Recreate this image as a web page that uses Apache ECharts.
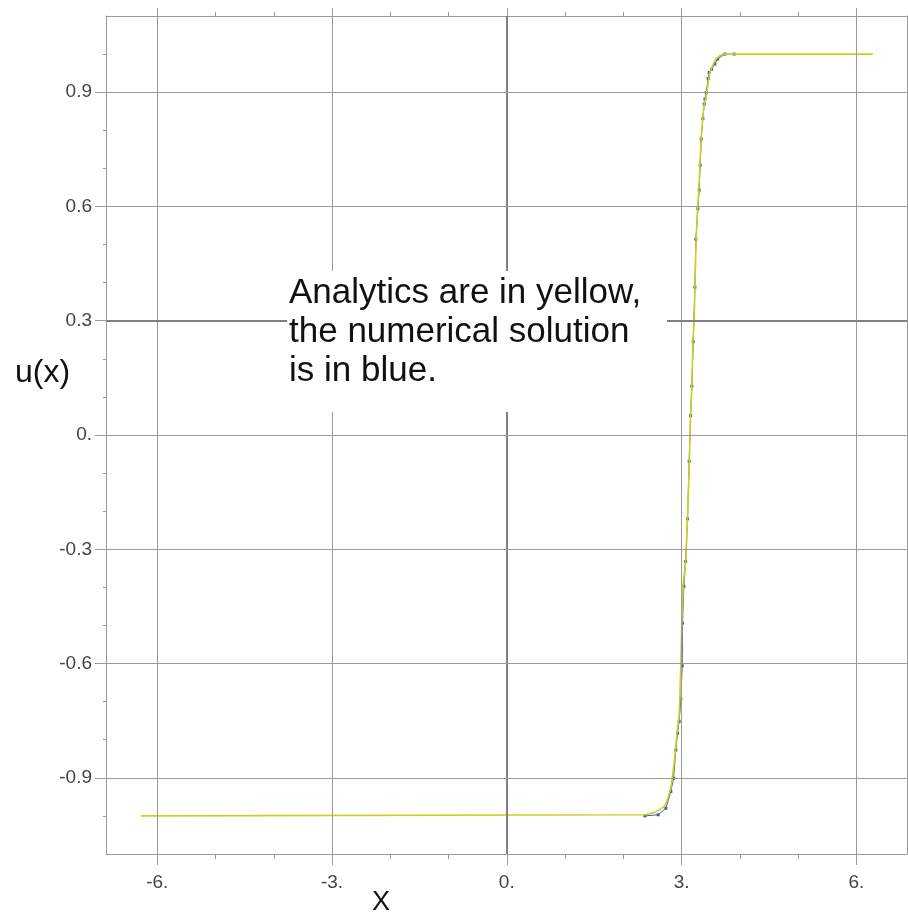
<!DOCTYPE html>
<html>
<head>
<meta charset="utf-8">
<script src="https://cdn.jsdelivr.net/npm/echarts@6/dist/echarts.min.js"></script>
<style>
  html, body { margin: 0; padding: 0; background: #fff; }
  #main { width: 908px; height: 916px; }
</style>
</head>
<body>
<div id="main"></div>
<script>
// analytic solution (yellow)
var analyticX = [-6.283, 2.37, 2.512, 2.627, 2.713, 2.77, 2.811, 2.846, 2.873, 2.902, 2.925, 2.954, 2.971, 2.988, 3.005, 3.028, 3.074, 3.103, 3.126, 3.155, 3.177, 3.194, 3.217, 3.229, 3.251, 3.275, 3.297, 3.314, 3.337, 3.366, 3.388, 3.417, 3.44, 3.486, 3.533, 3.589, 3.658, 3.727, 3.886, 6.283];
var analyticU = [-1, -0.997, -0.992, -0.983, -0.974, -0.952, -0.93, -0.895, -0.86, -0.816, -0.777, -0.746, -0.689, -0.597, -0.488, -0.392, -0.326, -0.214, -0.109, 0.054, 0.128, 0.245, 0.304, 0.387, 0.514, 0.597, 0.645, 0.709, 0.781, 0.834, 0.869, 0.884, 0.908, 0.953, 0.969, 0.987, 0.996, 1, 1, 1];

// numerical solution (blue dots)
var numX = [2.37, 2.598, 2.731, 2.816, 2.863, 2.902, 2.931, 2.959, 2.988, 3.011, 3.017, 3.04, 3.069, 3.103, 3.131, 3.155, 3.177, 3.2, 3.229, 3.246, 3.28, 3.302, 3.32, 3.337, 3.366, 3.388, 3.401, 3.423, 3.457, 3.474, 3.516, 3.572, 3.618, 3.744, 3.903];
var numU = [-1, -0.997, -0.98, -0.936, -0.901, -0.827, -0.783, -0.752, -0.693, -0.606, -0.494, -0.397, -0.332, -0.22, -0.069, 0.051, 0.128, 0.245, 0.388, 0.514, 0.594, 0.643, 0.708, 0.777, 0.831, 0.869, 0.882, 0.899, 0.936, 0.952, 0.96, 0.974, 0.987, 1, 1];

var xMajor = [-6, -3, 0, 3, 6];
var xMinor = [-5, -4, -2, -1, 1, 2, 4, 5];
var yMajor = [-0.9, -0.6, -0.3, 0, 0.3, 0.6, 0.9];
var yMinor = [-1.0, -0.8, -0.7, -0.5, -0.4, -0.2, -0.1, 0.1, 0.2, 0.4, 0.5, 0.7, 0.8, 1.0];

var myChart = echarts.init(document.getElementById('main'));

var gridColor = '#9a9a9a';
var labelFont = { color: '#444', fontSize: 19, fontFamily: 'Liberation Sans' };

function pairs(xs, ys) {
    var out = [];
    for (var i = 0; i < xs.length; i++) out.push([xs[i], ys[i]]);
    return out;
}

var gridLines = [];
xMajor.forEach(function (v) {
    gridLines.push({ xAxis: v, lineStyle: { color: v === 0 ? '#808080' : gridColor, width: v === 0 ? 2 : 1, type: 'solid' } });
});
yMajor.forEach(function (v) {
    gridLines.push({ yAxis: v, lineStyle: { color: v === 0.3 ? '#808080' : gridColor, width: v === 0.3 ? 2 : 1, type: 'solid' } });
});

var xBase = { type: 'value', min: -6.88, max: 6.87, gridIndex: 0, splitLine: { show: false } };
var yBase = { type: 'value', min: -1.1, max: 1.1, gridIndex: 0, splitLine: { show: false } };
var shownLine = { show: true, onZero: false, lineStyle: { color: gridColor, width: 1 } };
var hiddenLine = { show: false, onZero: false };

// one axis per tick set, so each gets its own length
function tickAxis(base, pos, values, len, line) {
    return Object.assign({}, base, {
        position: pos,
        axisLine: line ? shownLine : hiddenLine,
        axisTick: { show: true, inside: false, length: len, customValues: values, lineStyle: { color: gridColor, width: 1 } },
        axisLabel: { show: false }
    });
}

var option = {
    animation: false,
    grid: { left: 106, right: 1, top: 16, bottom: 62, containLabel: false },
    xAxis: [
        Object.assign({}, xBase, {
            position: 'bottom',
            axisLine: shownLine,
            axisTick: { show: false },
            axisLabel: Object.assign({ show: true, margin: 19, customValues: xMajor, formatter: function (v) { return v + '.'; } }, labelFont)
        }),
        tickAxis(xBase, 'bottom', xMajor, 11, false),
        tickAxis(xBase, 'bottom', xMinor, 5, false),
        tickAxis(xBase, 'top', xMajor, 8, true),
        tickAxis(xBase, 'top', xMinor, 4, false)
    ],
    yAxis: [
        Object.assign({}, yBase, {
            position: 'left',
            axisLine: shownLine,
            axisTick: { show: false },
            axisLabel: Object.assign({ show: true, margin: 14, customValues: yMajor, formatter: function (v) { return v === 0 ? '0.' : v.toFixed(1); } }, labelFont)
        }),
        tickAxis(yBase, 'left', yMajor, 11, false),
        tickAxis(yBase, 'left', yMinor, 3, false),
        Object.assign({}, yBase, {
            position: 'right',
            axisLine: shownLine,
            axisTick: { show: false },
            axisLabel: { show: false }
        })
    ],
    graphic: [
        { type: 'rect', z: 10, shape: { x: 287, y: 271, width: 380, height: 141 }, style: { fill: '#fff' } },
        { type: 'text', z: 11, x: 289, y: 274,
          style: { text: 'Analytics are in yellow,\nthe numerical solution\nis in blue.', fontSize: 35, fontFamily: 'Liberation Sans', lineHeight: 39, fill: '#111', textVerticalAlign: 'top' } },
        { type: 'text', z: 11, x: 15, y: 357,
          style: { text: 'u(x)', fontSize: 32, fontFamily: 'Liberation Sans', fill: '#111', textVerticalAlign: 'top' } },
        { type: 'text', z: 11, x: 372, y: 889,
          style: { text: 'X', fontSize: 27, fontFamily: 'Liberation Sans', fill: '#111', textVerticalAlign: 'top' } }
    ],
    series: [
        {
            name: 'grid',
            type: 'line',
            data: [],
            z: 1,
            silent: true,
            markLine: { silent: true, symbol: ['none', 'none'], label: { show: false }, animation: false, data: gridLines }
        },
        {
            name: 'numerical',
            type: 'line',
            z: 3,
            data: pairs(numX, numU),
            showSymbol: true,
            symbol: 'rect',
            symbolSize: [3, 3],
            itemStyle: { color: '#4a5ca8' },
            lineStyle: { color: '#4a5ca8', width: 1 }
        },
        {
            name: 'analytic',
            type: 'line',
            z: 4,
            data: pairs(analyticX, analyticU),
            showSymbol: false,
            lineStyle: { color: '#c8d21e', width: 1.6 }
        }
    ]
};

option && myChart.setOption(option);
window.onresize = myChart.resize;
</script>
</body>
</html>
